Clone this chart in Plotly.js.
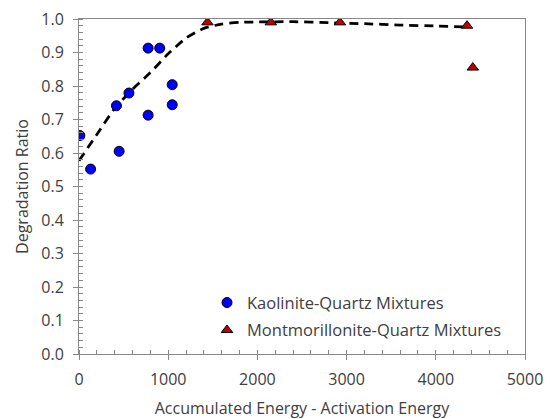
<!DOCTYPE html>
<html>
<head>
<meta charset="utf-8">
<script src="https://cdn.plot.ly/plotly-3.0.1.min.js"></script>
<style>html,body{margin:0;padding:0;background:#fff;}#chart{width:550px;height:419px;}</style>
</head>
<body>
<div id="chart"></div>
<script>
// Kaolinite-Quartz Mixtures
var kaoX = [10, 130, 420, 450, 560, 775, 905, 775, 1045, 1045];
var kaoY = [0.652, 0.552, 0.741, 0.605, 0.779, 0.913, 0.913, 0.713, 0.804, 0.744];
// Montmorillonite-Quartz Mixtures
var monX = [1440, 2150, 2925, 4350, 4415];
var monY = [0.990, 0.990, 0.990, 0.980, 0.855];
// Fitted trend (dashed)
var fitX = [0, 200, 400, 600, 800, 1000, 1200, 1400, 1600, 1800, 2000, 2400, 2800, 3200, 3600, 4000, 4350];
var fitY = [0.577, 0.655, 0.733, 0.790, 0.840, 0.896, 0.943, 0.972, 0.985, 0.990, 0.991, 0.992, 0.989, 0.986, 0.982, 0.979, 0.976];

var xTicks = [0, 1000, 2000, 3000, 4000, 5000];
var yTicks = [0.0, 0.1, 0.2, 0.3, 0.4, 0.5, 0.6, 0.7, 0.8, 0.9, 1.0];
var yTickText = yTicks.map(function(v){return v.toFixed(1);});

var FONT = 'Open Sans, sans-serif';
var FS = 16;
var traces = [
  {x: fitX, y: fitY, mode: 'lines', type: 'scatter', showlegend: false,
   line: {color: '#000', width: 2.75, dash: '9px,6px', shape: 'spline', smoothing: 0.6}, hoverinfo: 'skip'},
  {x: kaoX, y: kaoY, mode: 'markers', type: 'scatter', name: 'Kaolinite-Quartz Mixtures', legendgroup: 'a',
   marker: {symbol: 'circle', size: 10, color: '#0000FF', line: {color: '#000', width: 1}}},
  {x: monX, y: monY, mode: 'markers', type: 'scatter', name: 'Montmorillonite-Quartz Mixtures', legendgroup: 'b',
   marker: {symbol: 'triangle-up', size: 10, color: '#C00000', line: {color: '#000', width: 1}}}
];

var layout = {
  width: 550, height: 419,
  margin: {l: 79, r: 25, t: 19, b: 65},
  paper_bgcolor: '#fff', plot_bgcolor: '#fff',
  font: {family: FONT, size: FS, color: '#404040'},
  showlegend: true,
  legend: {x: 0.287, y: 0.205, xanchor: 'left', yanchor: 'top', bgcolor: 'rgba(0,0,0,0)',
           traceorder: 'grouped', tracegroupgap: 3, itemwidth: 30,
           font: {family: FONT, size: 16.5, color: '#404040'}},
  xaxis: {range: [0, 5000], tickvals: xTicks, ticks: 'outside', ticklen: 5, tickcolor: '#888',
          ticklabelstandoff: 6,
          showline: true, linecolor: '#888', linewidth: 1, mirror: true, showgrid: false, zeroline: false,
          minor: {dtick: 200, ticks: 'inside', ticklen: 4, tickcolor: '#888', showgrid: false},
          title: {text: 'Accumulated Energy - Activation Energy', font: {family: FONT, size: FS, color: '#404040'}, standoff: 14},
          tickfont: {family: FONT, size: FS, color: '#404040'}, fixedrange: true},
  yaxis: {range: [0, 1.0], tickvals: yTicks, ticktext: yTickText, ticks: 'outside', ticklen: 5, tickcolor: '#888',
          ticklabelstandoff: 6,
          showline: true, linecolor: '#888', linewidth: 1, mirror: true, showgrid: false, zeroline: false,
          minor: {dtick: 0.02, ticks: 'inside', ticklen: 4, tickcolor: '#888', showgrid: false},
          title: {text: 'Degradation Ratio', font: {family: FONT, size: FS, color: '#404040'}, standoff: 8},
          tickfont: {family: FONT, size: FS, color: '#404040'}, fixedrange: true}
};

Plotly.newPlot('chart', traces, layout, {displayModeBar: false, staticPlot: true});
</script>
</body>
</html>
